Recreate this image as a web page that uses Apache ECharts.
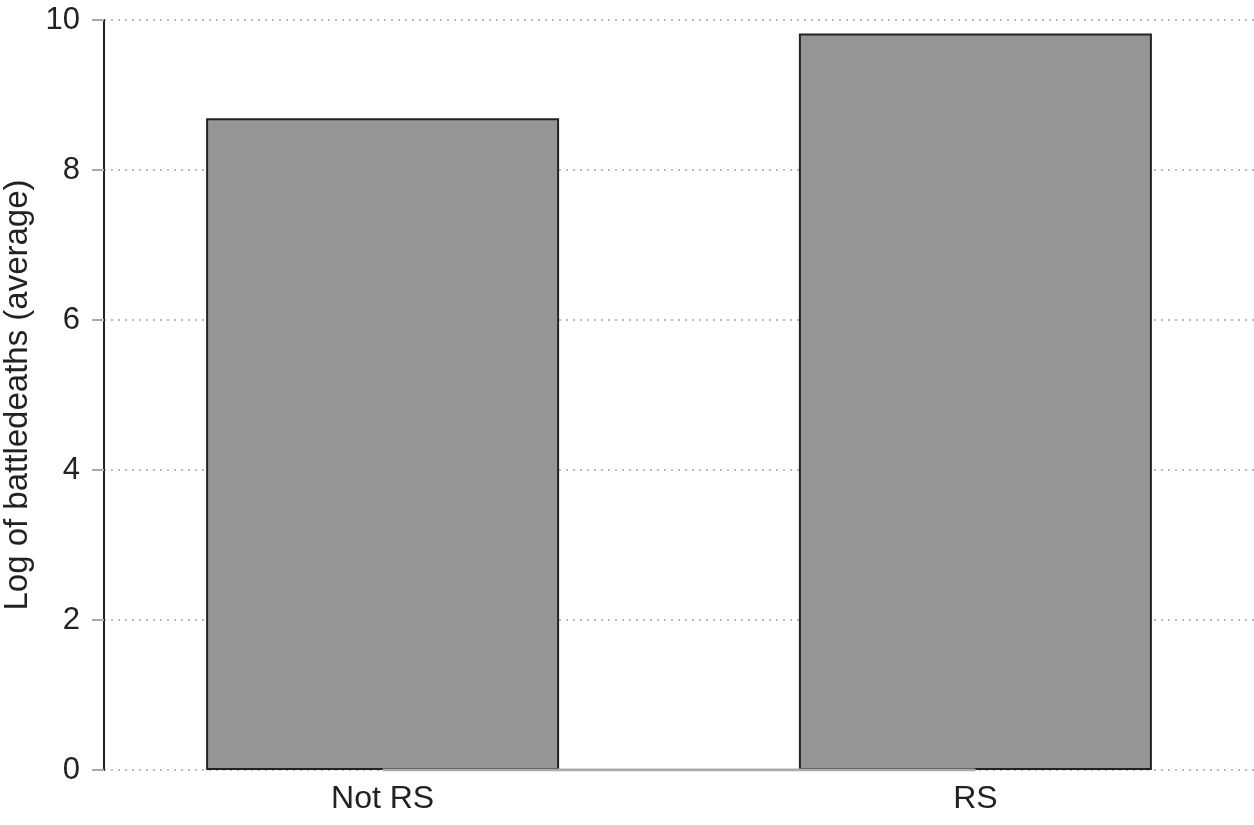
<!DOCTYPE html>
<html>
<head>
<meta charset="utf-8">
<script src="https://cdn.jsdelivr.net/npm/echarts@6/dist/echarts.min.js"></script>
<style>
  html, body { margin: 0; padding: 0; background: #fff; }
  #chart { width: 1254px; height: 825px; }
</style>
</head>
<body>
<div id="chart"></div>
<script>
// 类别和数值
var categories = ['Not RS', 'RS'];
var positions = [1, 2];
var avgLogDeaths = [8.69, 9.82];
var yTicks = [0, 2, 4, 6, 8, 10];

var myChart = echarts.init(document.getElementById('chart'));

var barData = positions.map(function (p, i) { return [p, avgLogDeaths[i]]; });

var option = {
    animation: false,
    textStyle: { fontFamily: 'Liberation Sans, Arial, sans-serif' },
    grid: { left: 104, right: 0, top: 20, bottom: 55, outerBoundsMode: 'none', containLabel: false },
    xAxis: {
        type: 'value',
        min: 0.53,
        max: 2.47,
        axisLine: { show: false },
        axisTick: { show: false },
        splitLine: { show: false },
        axisLabel: {
            customValues: positions,
            margin: 13,
            fontSize: 32,
            color: '#222',
            formatter: function (v) {
                var i = positions.indexOf(v);
                return i >= 0 ? categories[i] : '';
            }
        }
    },
    yAxis: {
        type: 'value',
        min: yTicks[0],
        max: yTicks[yTicks.length - 1],
        interval: 2,
        name: 'Log of battledeaths (average)',
        nameLocation: 'middle',
        nameGap: 64,
        nameTextStyle: { fontSize: 33, color: '#222' },
        axisLine: { show: true, lineStyle: { color: '#222', width: 2 } },
        axisTick: { show: true, length: 12, lineStyle: { color: '#aaa', width: 2 } },
        axisLabel: { fontSize: 31, color: '#222', margin: 24 },
        splitLine: {
            show: true,
            lineStyle: { color: '#bbb', type: [2, 5], width: 2 }
        }
    },
    series: [{
        type: 'bar',
        data: barData,
        barWidth: 353,
        itemStyle: { color: '#959595', borderColor: '#222', borderWidth: 2 },
        emphasis: { disabled: true }
    }, {
        type: 'line',
        data: [[positions[0], 0], [positions[positions.length - 1], 0]],
        symbol: 'none',
        z: 5,
        lineStyle: { color: '#aaa', width: 3 },
        emphasis: { disabled: true }
    }]
};

myChart.setOption(option);

window.addEventListener('resize', function () {
    myChart.resize();
});
</script>
</body>
</html>
